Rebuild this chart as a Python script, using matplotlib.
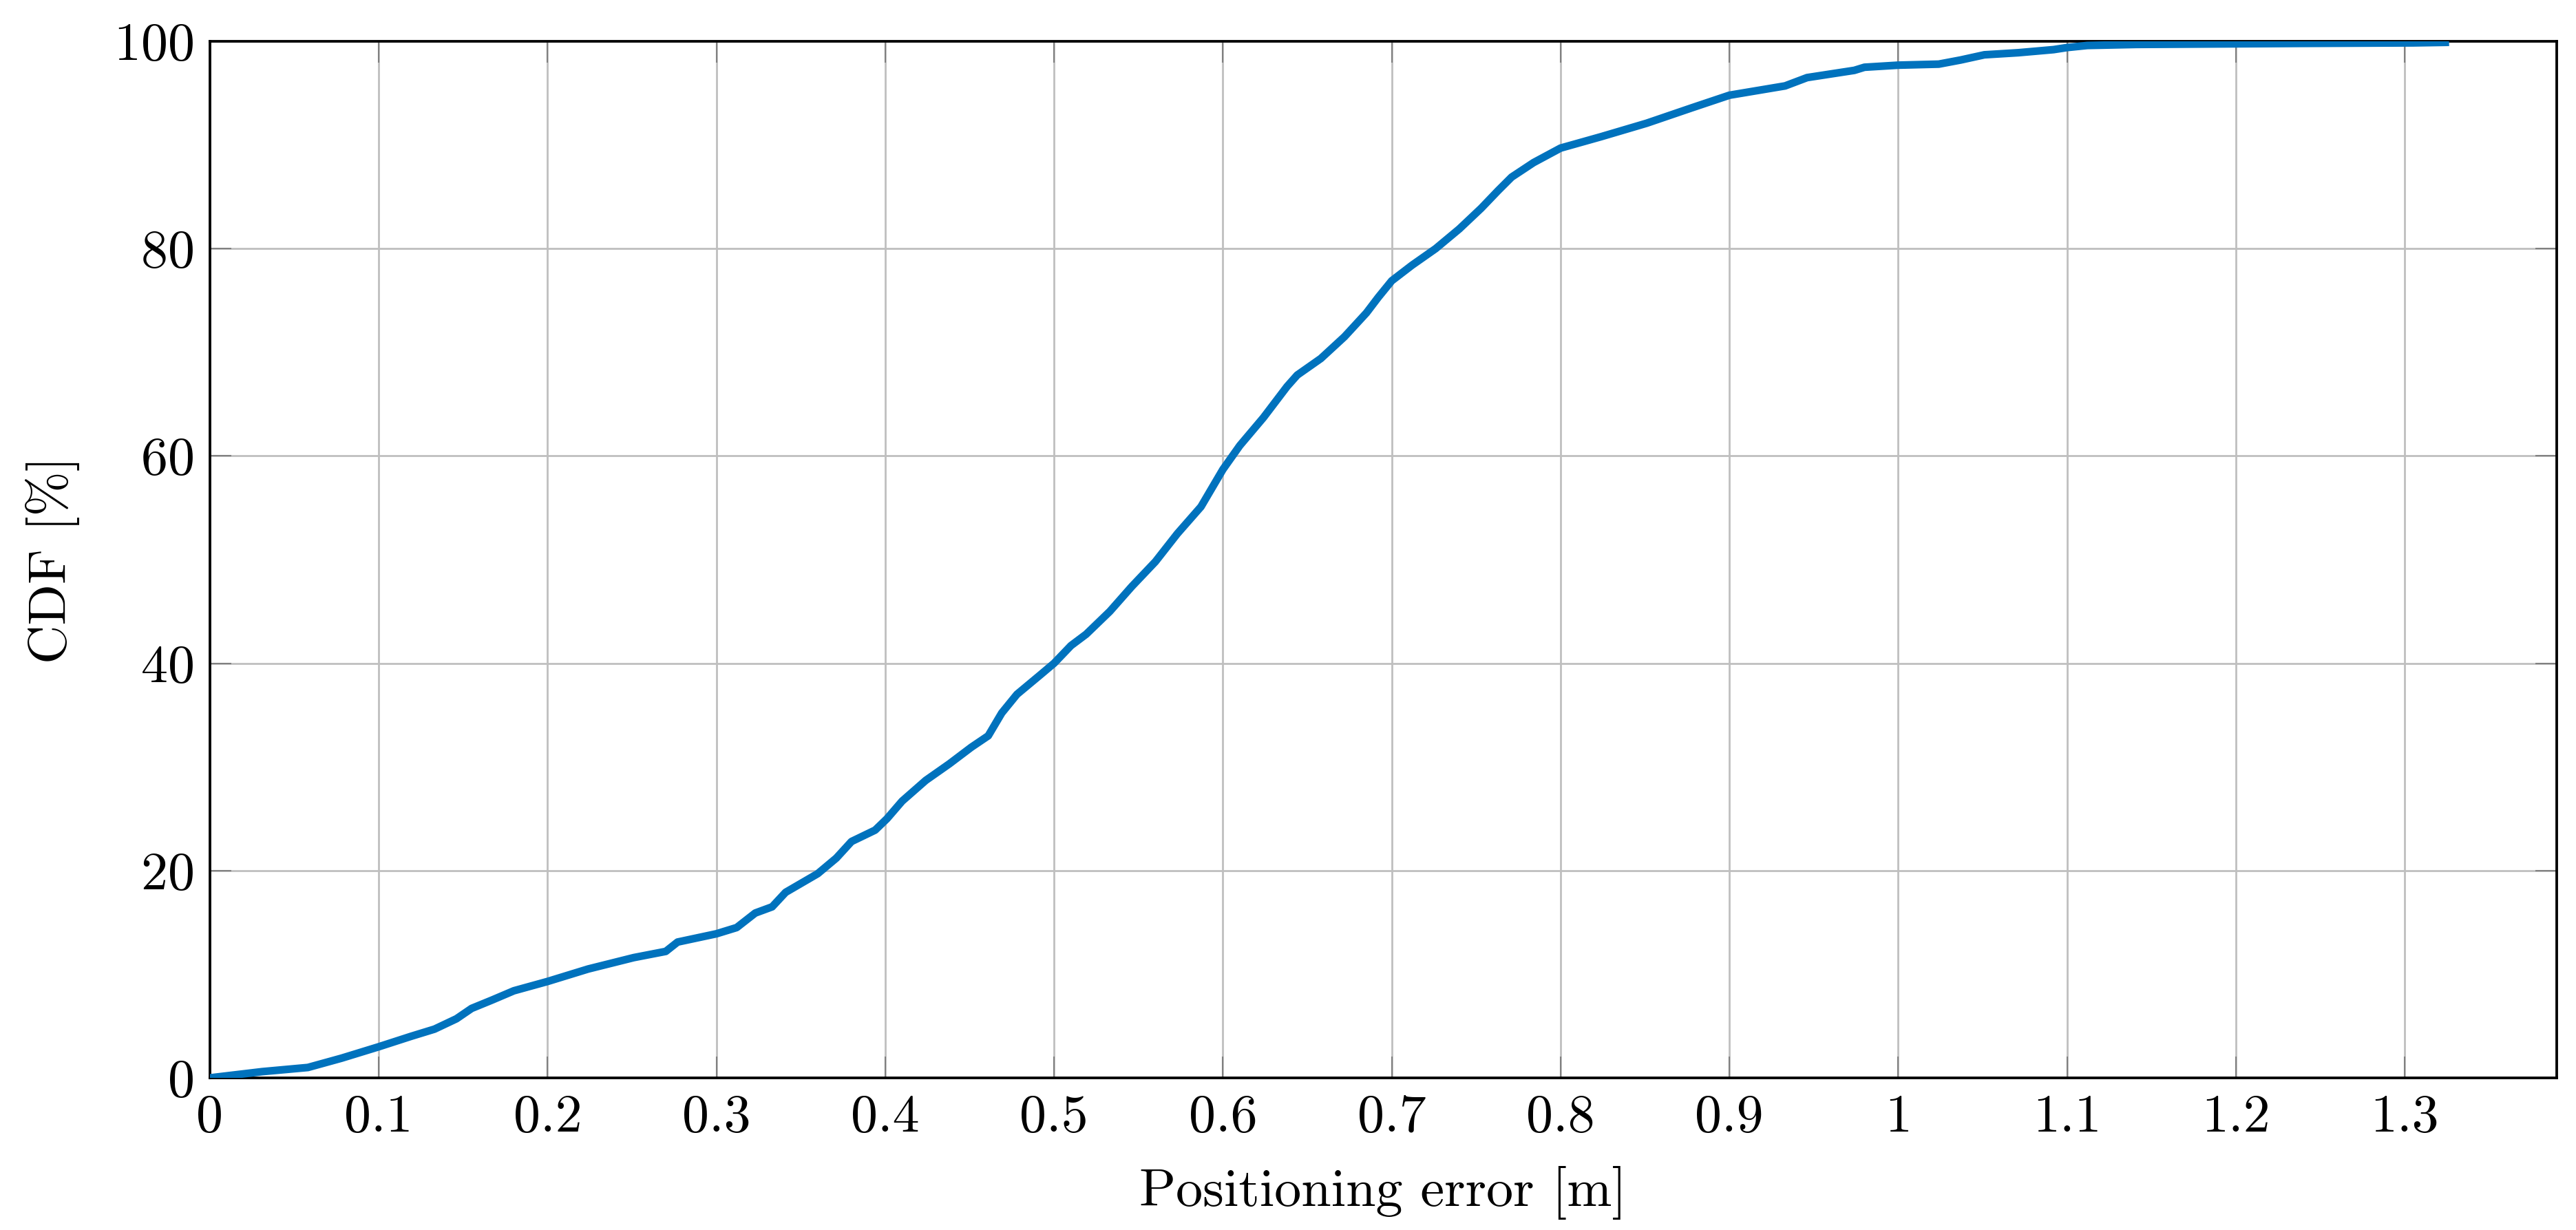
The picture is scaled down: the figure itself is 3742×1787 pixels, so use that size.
"""CDF of positioning error, redrawn with matplotlib."""
import matplotlib
matplotlib.use('Agg')
from matplotlib import pyplot as plt

# values (error in m, CDF in %)
error_m = [0.0, 0.031, 0.058, 0.078, 0.1, 0.119, 0.133, 0.146, 0.155, 0.167,
           0.18, 0.2, 0.224, 0.251, 0.27, 0.277, 0.3, 0.312, 0.323, 0.333,
           0.341, 0.36, 0.371, 0.38, 0.394, 0.401, 0.41, 0.424, 0.438, 0.451,
           0.461, 0.469, 0.478, 0.492, 0.5, 0.51, 0.519, 0.533, 0.546, 0.56,
           0.573, 0.587, 0.6, 0.61, 0.624, 0.638, 0.644, 0.658, 0.672, 0.685,
           0.692, 0.7, 0.712, 0.726, 0.74, 0.753, 0.763, 0.771, 0.784, 0.8,
           0.824, 0.851, 0.878, 0.9, 0.933, 0.946, 0.974, 0.98, 1.0, 1.024,
           1.037, 1.051, 1.071, 1.092, 1.1, 1.112, 1.141, 1.19, 1.239, 1.305,
           1.324]
cdf_pct = [0.0, 0.6, 1.0, 1.9, 3.0, 4.0, 4.7, 5.7, 6.7, 7.5,
           8.4, 9.3, 10.5, 11.6, 12.2, 13.1, 13.9, 14.5, 15.9, 16.5,
           17.9, 19.7, 21.2, 22.8, 23.9, 25.0, 26.7, 28.7, 30.3, 31.9,
           33.0, 35.2, 37.0, 38.9, 40.0, 41.7, 42.8, 45.0, 47.4, 49.8,
           52.5, 55.1, 58.7, 61.0, 63.7, 66.7, 67.8, 69.4, 71.5, 73.8,
           75.3, 76.9, 78.4, 80.0, 81.9, 83.9, 85.6, 86.9, 88.3, 89.7,
           90.8, 92.1, 93.6, 94.8, 95.7, 96.5, 97.2, 97.5, 97.7, 97.8,
           98.2, 98.7, 98.9, 99.2, 99.4, 99.6, 99.7, 99.75, 99.8, 99.85,
           99.9]

x_ticks = [0, 0.1, 0.2, 0.3, 0.4, 0.5, 0.6, 0.7, 0.8, 0.9, 1.0, 1.1, 1.2, 1.3]
x_tick_labels = ['0', '0.1', '0.2', '0.3', '0.4', '0.5', '0.6', '0.7', '0.8',
                 '0.9', '1', '1.1', '1.2', '1.3']
y_ticks = [0, 20, 40, 60, 80, 100]

plt.rcParams['font.family'] = 'serif'
plt.rcParams['font.serif'] = ['cmr10']
plt.rcParams['axes.formatter.use_mathtext'] = True
plt.rcParams['font.size'] = 22.5

fig = plt.figure(figsize=(3742 / 250, 1787 / 250), dpi=250)
ax = fig.add_axes([0.0815, 0.1237, 0.9925 - 0.0815, 0.9664 - 0.1237])

ax.plot(error_m, cdf_pct, color='#0072BD', linewidth=3.2, zorder=3,
        solid_joinstyle='round')

ax.set_xlim(0, 1.39)
ax.set_ylim(0, 100)
ax.set_xticks(x_ticks)
ax.set_xticklabels(x_tick_labels)
ax.set_yticks(y_ticks)
ax.grid(True, color='#bfbfbf', linewidth=0.8)
ax.set_axisbelow(True)
ax.tick_params(direction='in', length=9, width=0.6, color='#808080',
               top=True, right=True, pad=7)
for s in ax.spines.values():
    s.set_linewidth(1.1)

ax.set_xlabel('Positioning error [m]', labelpad=10)
ax.set_ylabel('CDF [%]', labelpad=14)

fig.savefig('out.png', dpi=250)
plt.close(fig)
